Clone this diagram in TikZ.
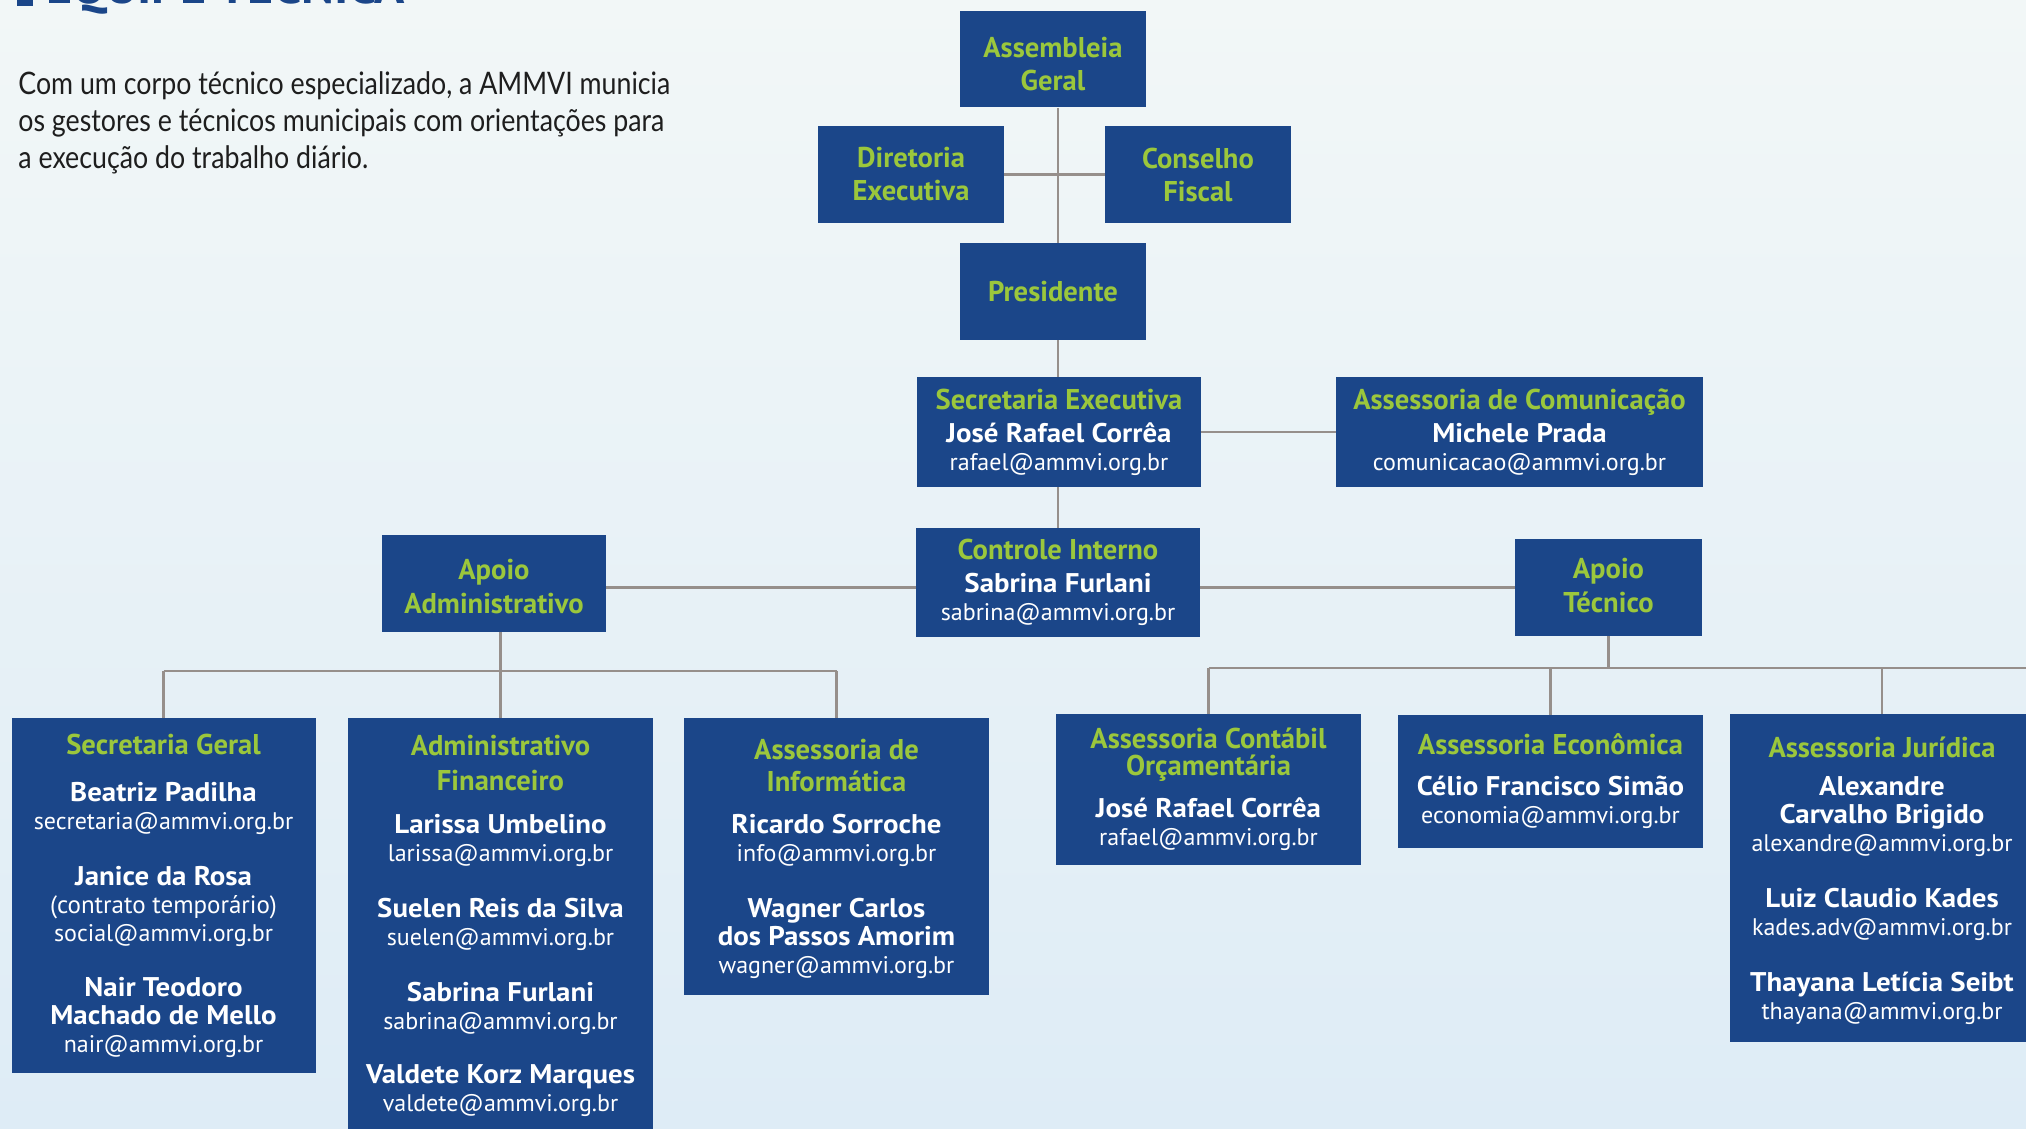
\documentclass[tikz,border=0pt]{standalone}
\usepackage{fontspec}
\newfontfamily\bxfont{PT Sans}
\newfontfamily\namefont[FakeStretch=1.07]{PT Sans}
\newfontfamily\mailfont{PT Sans}
\newfontfamily\introfont[FakeStretch=0.863]{Lato}
\definecolor{boxblue}{RGB}{27,70,137}
\definecolor{titlegreen}{RGB}{155,199,60}
\definecolor{linegray}{RGB}{150,143,139}
\definecolor{headblue}{RGB}{27,70,137}
\definecolor{bgtop}{RGB}{242,247,247}
\definecolor{bgbot}{RGB}{222,236,246}
\definecolor{introtext}{RGB}{30,30,30}
\newcommand\bxT[1]{{\color{titlegreen}\bxfont\bfseries\fontsize{14.3}{14}\selectfont #1}}
\newcommand\bxS[1]{{\color{titlegreen}\bxfont\bfseries\fontsize{14.3}{14}\selectfont #1}}
\newcommand\bxN[1]{{\color{white}\namefont\bfseries\fontsize{13.5}{14}\selectfont #1}}
\newcommand\bxE[1]{{\color{white}\mailfont\fontsize{12}{14}\selectfont #1}}
\newcommand\bxC[1]{{\color{white}\mailfont\fontsize{12.5}{14}\selectfont #1}}
\newcommand\topstrut[1]{\rule{0pt}{#1}}
\newcommand\botstrut[1]{\rule[-#1]{0pt}{1pt}}
\tikzset{
  orgbox/.style={fill=boxblue, inner sep=0pt, align=center, font=\fontsize{12}{14}\selectfont},
  conn/.style={draw=linegray, line width=1.2pt},
}
\begin{document}
\begin{tikzpicture}[x=0.5pt,y=-0.5pt]
\useasboundingbox (0,0) rectangle (2026,1129);
\begin{scope}
\clip (0,0) rectangle (2026,1129);
\shade[top color=bgtop, bottom color=bgbot] (0,0) rectangle (2026,1129);
% header (cut off at top)
\fill[headblue] (17,-30) rectangle (33,6);
\node[anchor=base west, inner sep=0pt, text=headblue, font=\bxfont\bfseries\fontsize{25}{26}\selectfont] (head) at (46,4) {EQUIPE TÉCNICA};
% intro text
\node[anchor=north west, inner sep=0pt, align=left, text=introtext, font=\introfont\fontsize{15.5}{18.5}\selectfont] (intro) at (18,71)
  {Com um corpo técnico especializado, a AMMVI municia\\os gestores e técnicos municipais com orientações para\\a execução do trabalho diário.};

% boxes
\node[orgbox, minimum width=93pt, minimum height=48pt] (asm) at (1053,59.5) {\topstrut{15pt}\bxT{Assembleia}\\[2.5pt]\bxT{Geral}};
\node[orgbox, minimum width=93pt, minimum height=48.5pt] (dir) at (911,174.5) {\bxT{Diretoria}\\[2.5pt]\bxT{Executiva}};
\node[orgbox, minimum width=93pt, minimum height=48.5pt] (cons) at (1198,174.5) {\bxT{Conselho}\\[2.5pt]\bxT{Fiscal}};
\node[orgbox, minimum width=93pt, minimum height=48.5pt] (pres) at (1053,291.5) {\bxT{Presidente}};
\node[orgbox, minimum width=142pt, minimum height=55pt] (sec) at (1059,432) {\bxS{Secretaria Executiva}\\[2.5pt]\bxN{José Rafael Corrêa}\\\bxE{rafael@ammvi.org.br}};
\node[orgbox, minimum width=183.5pt, minimum height=55pt] (com) at (1519.5,432) {\bxS{Assessoria de Comunicação}\\[2.5pt]\bxN{Michele Prada}\\\bxE{comunicacao@ammvi.org.br}};
\node[orgbox, minimum width=142pt, minimum height=54.5pt] (ctl) at (1058,582.5) {\bxS{Controle Interno}\\[2.5pt]\bxN{Sabrina Furlani}\\\bxE{sabrina@ammvi.org.br}};
\node[orgbox, minimum width=112pt, minimum height=48.5pt] (adm) at (494,583.5) {\topstrut{13pt}\bxT{Apoio}\\[3pt]\bxT{Administrativo}};
\node[orgbox, minimum width=93.5pt, minimum height=48.5pt] (tec) at (1608.5,587.5) {\bxT{Apoio}\\[3pt]\bxT{Técnico}\botstrut{2.6pt}};

\node[orgbox, minimum width=152pt, minimum height=177.5pt] (sg) at (163.5,895.5)
  {\bxS{Secretaria Geral}\\[9.5pt]\bxN{Beatriz Padilha}\\\bxE{secretaria@ammvi.org.br}\\[14pt]
   \bxN{Janice da Rosa}\\\bxC{(contrato temporário)}\\\bxE{social@ammvi.org.br}\\[13.5pt]
   \bxN{Nair Teodoro}\\\bxN{Machado de Mello}\\\bxE{nair@ammvi.org.br}};
\node[orgbox, minimum width=152.5pt, minimum height=208pt] (af) at (500.5,926)
  {\bxS{Administrativo}\\[3.5pt]\bxS{Financeiro}\\[7.5pt]\bxN{Larissa Umbelino}\\\bxE{larissa@ammvi.org.br}\\[14pt]
   \bxN{Suelen Reis da Silva}\\\bxE{suelen@ammvi.org.br}\\[14pt]
   \bxN{Sabrina Furlani}\\\bxE{sabrina@ammvi.org.br}\\[13pt]
   \bxN{Valdete Korz Marques}\\\bxE{valdete@ammvi.org.br}};
\node[orgbox, minimum width=152.5pt, minimum height=138.5pt] (inf) at (836.5,856.5)
  {\topstrut{13pt}\bxS{Assessoria de}\\[2pt]\bxS{Informática}\\[7pt]\bxN{Ricardo Sorroche}\\\bxE{info@ammvi.org.br}\\[14pt]
   \bxN{Wagner Carlos}\\\bxN{dos Passos Amorim}\\\bxE{wagner@ammvi.org.br}};
\node[orgbox, minimum width=152.5pt, minimum height=75.5pt] (cont) at (1208.5,789.5)
  {\bxS{Assessoria Contábil}\\[-0.5pt]\bxS{Orçamentária}\\[7pt]\bxN{José Rafael Corrêa}\\\bxE{rafael@ammvi.org.br}};
\node[orgbox, minimum width=152.5pt, minimum height=66.5pt] (eco) at (1550.5,781.5)
  {\bxS{Assessoria Econômica}\\[6.5pt]\bxN{Célio Francisco Simão}\\\bxE{economia@ammvi.org.br}};
\node[orgbox, minimum width=152.5pt, minimum height=164pt] (jur) at (1882,878)
  {\topstrut{13pt}\bxS{Assessoria Jurídica}\\[5pt]\bxN{Alexandre}\\\bxN{Carvalho Brigido}\\\bxE{alexandre@ammvi.org.br}\\[14pt]
   \bxN{Luiz Claudio Kades}\\\bxE{kades.adv@ammvi.org.br}\\[14pt]
   \bxN{Thayana Letícia Seibt}\\\bxE{thayana@ammvi.org.br}};

% connectors
\coordinate (lbus) at (0,671);
\coordinate (rbus) at (0,668);
\coordinate (rbusend) at (2030,668);
\draw[conn] (asm.south -| ctl.north) -- (pres.north -| ctl.north);
\draw[conn] (dir.east) -- (cons.west);
\draw[conn] (pres.south -| ctl.north) -- (sec.north -| ctl.north);
\draw[conn] (sec.east) -- (com.west);
\draw[conn] (sec.south -| ctl.north) -- (ctl.north);
\draw[conn] (adm.east |- tec.west) -- (ctl.west |- tec.west);
\draw[conn] (ctl.east |- tec.west) -- (tec.west);
\draw[conn] (adm.south -| af.north) -- (af.north |- lbus);
\draw[conn] (sg.north |- lbus) -- (inf.north |- lbus);
\draw[conn] (sg.north |- lbus) -- (sg.north);
\draw[conn] (af.north |- lbus) -- (af.north);
\draw[conn] (inf.north |- lbus) -- (inf.north);
\draw[conn] (tec.south) -- (tec.south |- rbus);
\draw[conn] (cont.north |- rbus) -- (rbusend);
\draw[conn] (cont.north |- rbus) -- (cont.north);
\draw[conn] (eco.north |- rbus) -- (eco.north);
\draw[conn] (jur.north |- rbus) -- (jur.north);
\end{scope}
\end{tikzpicture}
\end{document}
